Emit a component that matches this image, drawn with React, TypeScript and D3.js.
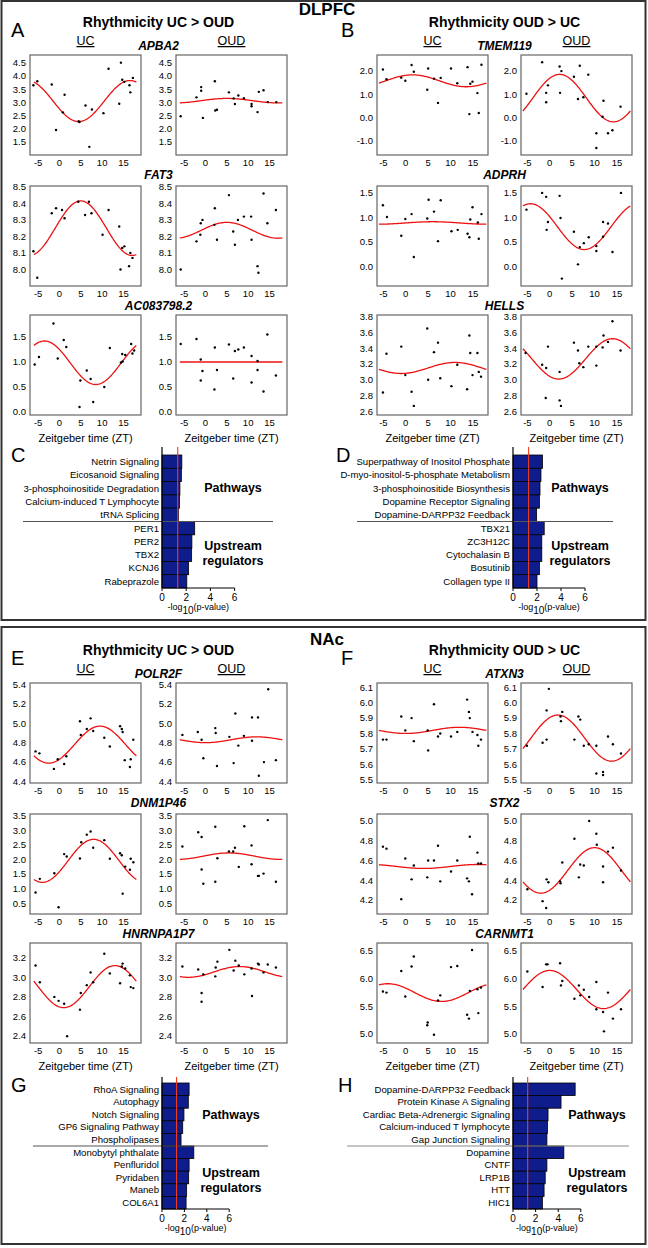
import * as d3 from 'd3'

type Pt = [number, number]
type Fit = [number, number, number] // mesor, amplitude, peak (ZT)

const FONT = 'Liberation Sans, Arial, Helvetica, sans-serif'
const ZT_TICKS = [-5, 0, 5, 10, 15]
const THRESHOLD = 1.3 // -log10(0.05)

// ---------- DLPFC, rhythmicity UC > OUD ----------
const APBA2_UC: Pt[] = [[-6.1,3.65],[-5.2,3.8],[-1.8,3.68],[-0.8,1.95],[0.8,2.62],[1.2,3.29],[4.5,2.28],[4.7,2.25],[6.1,2.88],[7.0,1.31],[7.6,2.73],[10.3,2.59],[11.5,4.28],[14.0,2.95],[14.4,4.51],[14.7,3.86],[15.2,3.78],[16.4,3.65],[16.6,3.38],[17.2,3.93]]
const APBA2_OUD: Pt[] = [[-5.8,2.47],[-2.1,3.19],[-1.0,3.58],[-1.0,3.44],[-0.6,2.41],[2.2,3.8],[2.3,2.69],[2.7,2.72],[5.5,3.38],[6.6,3.15],[6.9,2.94],[7.7,3.26],[9.0,3.16],[10.8,2.94],[10.8,2.85],[12.2,2.63],[12.5,3.4],[13.6,3.46],[14.6,3.01],[16.6,3.01]]
const FAT3_UC: Pt[] = [[-6.1,8.11],[-5.2,7.95],[-1.8,8.34],[-0.8,8.37],[0.6,8.36],[1.2,8.31],[4.4,8.41],[6.0,8.33],[6.9,8.41],[7.5,8.34],[10.1,8.21],[11.5,8.36],[14.0,8.26],[14.3,8.0],[14.7,8.13],[15.2,8.14],[16.3,8.02],[16.6,8.10],[17.1,8.07]]
const FAT3_OUD: Pt[] = [[-5.8,8.0],[-2.1,8.17],[-1.2,8.21],[-1.1,8.28],[-0.7,8.30],[2.1,8.27],[2.2,8.37],[2.7,8.18],[5.5,8.45],[6.5,8.23],[6.9,8.15],[7.6,8.30],[9.0,8.32],[10.7,8.32],[10.8,8.18],[12.2,8.02],[12.4,7.98],[13.6,8.46],[14.5,8.28],[16.5,8.36]]
const AC083798_UC: Pt[] = [[-5.8,0.95],[-4.8,1.1],[-1.4,1.77],[-0.4,1.07],[1.0,1.44],[1.6,1.3],[4.7,0.1],[4.9,0.63],[6.4,0.83],[7.3,0.66],[7.9,0.2],[10.5,0.5],[11.8,1.28],[14.4,0.99],[14.7,1.16],[14.8,1.01],[15.4,1.14],[16.8,1.36],[17.1,1.17],[17.5,1.23]]
const AC083798_OUD: Pt[] = [[-5.8,1.36],[-2.1,1.46],[-1.1,1.05],[-0.7,0.82],[-1.1,0.63],[2.2,1.29],[2.1,0.45],[2.7,0.84],[5.5,1.35],[6.5,0.67],[6.9,1.22],[7.7,1.25],[9.0,1.29],[10.8,1.12],[10.8,0.59],[12.2,1.02],[12.2,0.84],[13.6,0.41],[14.5,1.55],[16.5,0.73]]

// ---------- DLPFC, rhythmicity OUD > UC ----------
const TMEM119_UC: Pt[] = [[-5.1,2.06],[-4.3,1.64],[-1.0,1.71],[-0.1,1.58],[1.3,2.25],[1.8,1.96],[5.0,2.1],[4.8,1.19],[6.3,1.67],[7.2,0.63],[7.8,1.70],[10.1,2.1],[11.5,1.47],[13.8,2.16],[14.2,0.15],[14.4,1.45],[14.9,1.54],[16.0,1.05],[16.3,0.2],[16.9,2.26]]
const TMEM119_OUD: Pt[] = [[-5.2,1.02],[-1.7,2.37],[-0.8,1.06],[-0.8,0.66],[-0.4,1.38],[2.2,2.19],[2.6,1.99],[2.3,1.06],[5.4,1.75],[6.3,0.8],[6.7,2.22],[7.5,0.87],[8.6,1.84],[10.4,-0.67],[10.4,-1.3],[11.8,0.04],[12.0,0.72],[13.0,-0.67],[14.0,-0.54],[15.8,0.47]]
const ADPRH_UC: Pt[] = [[-5.1,1.25],[-4.2,1.01],[-1.0,0.63],[-0.1,0.97],[1.3,1.07],[1.8,0.2],[4.8,0.98],[5.1,1.36],[6.3,1.12],[7.2,0.52],[7.8,1.35],[10.2,0.72],[11.6,0.75],[13.8,0.67],[14.2,0.6],[14.4,0.96],[14.9,1.21],[16.1,0.9],[16.3,0.57],[16.9,1.07]]
const ADPRH_OUD: Pt[] = [[-5.2,1.16],[-1.7,1.5],[-0.8,1.42],[-0.7,0.75],[-0.4,0.91],[2.2,1.44],[2.4,0.99],[2.7,-0.24],[5.4,0.71],[6.3,0.05],[6.7,0.4],[7.6,0.48],[8.7,0.6],[10.4,0.42],[10.4,0.32],[11.9,0.61],[11.9,0.91],[13.0,0.88],[14.0,0.3],[15.9,1.5]]
const HELLS_UC: Pt[] = [[-5.1,2.84],[-4.3,3.33],[-1.0,3.42],[-0.1,3.06],[1.3,2.85],[1.8,2.67],[4.8,3.65],[5.0,3.0],[6.3,3.35],[7.2,3.47],[7.7,3.02],[10.2,2.92],[11.5,3.19],[13.7,2.88],[14.2,3.56],[14.4,3.34],[14.9,3.06],[16.0,3.34],[16.3,3.1],[16.8,3.04]]
const HELLS_OUD: Pt[] = [[-5.4,3.34],[-1.7,3.19],[-0.8,3.15],[-0.4,3.42],[-0.9,2.77],[2.2,3.10],[2.2,2.74],[2.5,2.67],[5.4,3.47],[6.3,3.37],[6.6,3.21],[7.5,3.16],[8.6,3.42],[10.4,3.18],[10.4,3.42],[11.8,3.41],[12.0,3.56],[13.0,3.48],[14.0,3.74],[15.8,3.37]]

// ---------- NAc, rhythmicity UC > OUD ----------
const POLR2F_UC: Pt[] = [[-5.6,4.71],[-4.7,4.69],[-1.3,4.53],[-0.4,4.63],[1.1,4.58],[1.6,4.66],[4.8,5.02],[5.0,4.88],[6.4,4.94],[7.3,5.05],[7.9,4.92],[10.5,4.85],[11.8,4.76],[14.2,4.97],[14.6,4.94],[14.8,4.91],[15.3,4.62],[16.5,4.55],[16.7,4.63],[17.3,4.83]]
const POLR2F_OUD: Pt[] = [[-5.4,4.88],[-1.8,4.91],[-0.9,4.83],[-0.5,4.64],[2.3,4.95],[2.4,4.90],[2.7,4.56],[5.6,4.86],[6.6,4.59],[7.0,5.1],[7.7,4.77],[9.0,4.87],[10.9,5.06],[10.9,4.82],[12.3,5.06],[12.5,4.46],[13.7,4.6],[14.7,5.35],[16.5,4.62]]
const DNM1P46_UC: Pt[] = [[-5.6,0.87],[-4.6,1.34],[-1.2,1.53],[-0.2,0.36],[1.1,2.19],[1.7,2.11],[4.8,2.04],[5.1,2.6],[6.4,2.86],[7.3,2.97],[7.9,2.41],[10.5,2.67],[11.8,2.03],[14.2,2.22],[14.6,2.15],[14.8,0.83],[15.4,1.76],[16.5,1.65],[16.7,2.03],[17.3,1.91]]
const DNM1P46_OUD: Pt[] = [[-5.4,2.45],[-1.7,2.94],[-0.9,2.78],[-0.9,1.66],[-0.5,1.17],[2.3,3.13],[2.3,1.24],[2.8,2.05],[5.5,2.28],[6.5,2.28],[6.9,2.41],[7.8,1.75],[9.1,3.15],[10.8,2.49],[10.8,1.84],[12.3,1.44],[12.5,1.44],[13.6,1.52],[14.6,3.36],[16.5,1.24]]
const HNRNPA1P7_UC: Pt[] = [[-5.6,3.12],[-4.6,2.95],[-1.2,2.8],[-0.2,2.76],[1.1,2.73],[1.8,2.40],[4.8,2.67],[5.0,2.84],[6.4,2.92],[7.3,3.05],[7.9,2.95],[10.5,3.24],[11.8,3.04],[14.2,2.94],[14.6,3.11],[14.8,3.14],[15.4,3.09],[16.5,3.02],[16.7,2.9],[17.3,2.89]]
const HNRNPA1P7_OUD: Pt[] = [[-5.4,3.11],[-1.7,3.08],[-0.9,2.84],[-0.9,2.75],[-0.5,3.03],[2.3,3.01],[2.4,3.1],[2.8,3.16],[5.6,3.28],[6.6,3.07],[7.0,3.17],[7.8,3.12],[9.1,3.03],[10.8,3.09],[10.9,2.81],[12.3,3.14],[12.5,3.13],[13.6,3.05],[14.6,3.13],[16.5,3.1]]

// ---------- NAc, rhythmicity OUD > UC ----------
const ATXN3_UC: Pt[] = [[-5.1,5.76],[-4.3,5.76],[-1.0,5.91],[-0.1,5.82],[1.3,5.90],[1.8,5.75],[4.9,5.82],[5.0,5.69],[6.3,5.99],[7.2,5.78],[7.7,5.80],[10.1,5.78],[11.5,5.81],[13.7,6.02],[14.1,5.94],[14.3,5.9],[14.9,5.81],[16.0,5.79],[16.2,5.72],[16.8,5.76]]
const ATXN3_OUD: Pt[] = [[-5.1,5.72],[-1.6,5.74],[-0.7,5.76],[-0.7,5.95],[-0.2,6.09],[2.4,5.91],[2.5,5.88],[2.8,5.94],[5.5,5.76],[6.4,5.91],[6.8,5.89],[7.6,5.72],[8.7,5.73],[10.4,5.72],[10.4,5.54],[11.9,5.55],[11.9,5.53],[13.0,5.78],[14.1,5.73],[15.9,5.67]]
const STX2_UC: Pt[] = [[-5.1,4.74],[-4.3,4.72],[-1.0,4.21],[-0.1,4.62],[1.3,4.41],[1.8,4.55],[4.8,4.43],[5.0,4.6],[6.3,4.6],[7.2,4.75],[7.7,4.39],[10.1,4.49],[11.5,4.6],[13.7,4.42],[14.1,4.39],[14.3,4.84],[14.8,4.26],[16.0,4.68],[16.2,4.57],[16.8,4.57]]
const STX2_OUD: Pt[] = [[-5.0,4.31],[-1.6,4.19],[-0.8,4.12],[-0.7,4.41],[-0.3,4.38],[2.3,4.39],[2.4,4.37],[2.8,4.58],[5.5,4.82],[6.5,4.43],[6.8,4.56],[7.6,4.55],[8.8,5.0],[10.4,4.87],[10.5,4.76],[11.9,4.54],[11.9,4.38],[13.0,4.69],[14.1,4.73],[15.9,4.5]]
const CARNMT1_UC: Pt[] = [[-5.1,5.77],[-4.3,5.75],[-1.0,6.14],[-0.1,5.68],[1.3,6.22],[1.8,6.40],[4.8,5.16],[4.9,5.21],[6.3,4.99],[7.2,5.61],[7.7,5.70],[10.1,6.21],[11.5,6.23],[13.7,5.35],[14.1,5.28],[14.3,5.78],[14.8,6.52],[16.0,5.81],[16.2,5.38],[16.8,5.84]]
const CARNMT1_OUD: Pt[] = [[-5.0,6.13],[-1.6,5.85],[-0.8,6.26],[-0.5,6.26],[2.3,6.28],[2.5,5.88],[2.8,5.96],[5.5,5.64],[6.5,5.88],[6.8,5.70],[7.6,5.80],[8.8,5.67],[10.4,5.94],[10.4,5.45],[11.9,5.40],[12.1,5.05],[13.0,5.75],[14.1,5.28],[15.9,5.45]]

interface Gene {
  name: string
  yDomain: [number, number]
  yTicks: number[]
  uc: Pt[]
  oud: Pt[]
  ucFit: Fit
  oudFit: Fit
}

const GENES_A: Gene[] = [
  { name: 'APBA2', yDomain: [1.0, 4.8], yTicks: [1.5, 2, 2.5, 3, 3.5, 4, 4.5], uc: APBA2_UC, oud: APBA2_OUD, ucFit: [3.05, 0.78, 16.5], oudFit: [3.065, 0.085, 5] },
  { name: 'FAT3', yDomain: [7.9, 8.505], yTicks: [8.0, 8.1, 8.2, 8.3, 8.4, 8.5], uc: FAT3_UC, oud: FAT3_OUD, ucFit: [8.25, 0.165, 5], oudFit: [8.237, 0.048, 5] },
  { name: 'AC083798.2', yDomain: [-0.06, 1.94], yTicks: [0, 0.5, 1, 1.5], uc: AC083798_UC, oud: AC083798_OUD, ucFit: [0.985, 0.435, -3.5], oudFit: [1.0, 0, 0] },
]
const GENES_B: Gene[] = [
  { name: 'TMEM119', yDomain: [-1.6, 2.68], yTicks: [-1, 0, 1, 2], uc: TMEM119_UC, oud: TMEM119_OUD, ucFit: [1.575, 0.255, 1.5], oudFit: [0.835, 1.015, 2.2] },
  { name: 'ADPRH', yDomain: [-0.39, 1.64], yTicks: [0, 0.5, 1, 1.5], uc: ADPRH_UC, oud: ADPRH_OUD, ucFit: [0.89, 0.025, 6], oudFit: [0.815, 0.465, -4.3] },
  { name: 'HELLS', yDomain: [2.555, 3.82], yTicks: [2.6, 2.8, 3.0, 3.2, 3.4, 3.6, 3.8], uc: HELLS_UC, oud: HELLS_OUD, ucFit: [3.15, 0.07, 11], oudFit: [3.265, 0.255, 14] },
]
const GENES_E: Gene[] = [
  { name: 'POLR2F', yDomain: [4.385, 5.414], yTicks: [4.4, 4.6, 4.8, 5.0, 5.2, 5.4], uc: POLR2F_UC, oud: POLR2F_OUD, ucFit: [4.78, 0.19, 9.5], oudFit: [4.83, 0.03, 12] },
  { name: 'DNM1P46', yDomain: [0.13, 3.57], yTicks: [0.5, 1, 1.5, 2, 2.5, 3, 3.5], uc: DNM1P46_UC, oud: DNM1P46_OUD, ucFit: [1.96, 0.74, 8], oudFit: [2.12, 0.11, 5.5] },
  { name: 'HNRNPA1P7', yDomain: [2.33, 3.35], yTicks: [2.4, 2.6, 2.8, 3.0, 3.2], uc: HNRNPA1P7_UC, oud: HNRNPA1P7_OUD, ucFit: [2.905, 0.215, 13], oudFit: [3.055, 0.055, 8] },
]
const GENES_F: Gene[] = [
  { name: 'ATXN3', yDomain: [5.478, 6.128], yTicks: [5.5, 5.6, 5.7, 5.8, 5.9, 6.0, 6.1], uc: ATXN3_UC, oud: ATXN3_OUD, ucFit: [5.82, 0.02, 12], oudFit: [5.77, 0.15, 1.8] },
  { name: 'STX2', yDomain: [4.06, 5.07], yTicks: [4.2, 4.4, 4.6, 4.8, 5.0], uc: STX2_UC, oud: STX2_OUD, ucFit: [4.54, 0.02, 16], oudFit: [4.5, 0.23, 10] },
  { name: 'CARNMT1', yDomain: [4.84, 6.645], yTicks: [5.0, 5.5, 6.0, 6.5], uc: CARNMT1_UC, oud: CARNMT1_OUD, ucFit: [5.75, 0.16, -4], oudFit: [5.805, 0.345, 0] },
]

// ---------- IPA enrichment ----------
const C_LABELS = ['Netrin Signaling', 'Eicosanoid Signaling', '3-phosphoinositide Degradation', 'Calcium-induced T Lymphocyte', 'tRNA Splicing', 'PER1', 'PER2', 'TBX2', 'KCNJ6', 'Rabeprazole']
const C_VALUES = [1.64, 1.6, 1.48, 1.45, 1.35, 2.7, 2.47, 2.45, 2.2, 2.05]
const D_LABELS = ['Superpathway of Inositol Phosphate', 'D-myo-inositol-5-phosphate Metabolism', '3-phosphoinositide Biosynthesis', 'Dopamine Receptor Signaling', 'Dopamine-DARPP32 Feedback', 'TBX21', 'ZC3H12C', 'Cytochalasin B', 'Bosutinib', 'Collagen type II']
const D_VALUES = [2.46, 2.33, 2.25, 2.2, 1.97, 2.6, 2.4, 2.4, 2.2, 2.0]
const G_LABELS = ['RhoA Signaling', 'Autophagy', 'Notch Signaling', 'GP6 Signaling Pathway', 'Phospholipases', 'Monobytyl phthalate', 'Penfluridol', 'Pyridaben', 'Maneb', 'COL6A1']
const G_VALUES = [2.42, 2.35, 1.96, 1.85, 1.7, 2.84, 2.42, 2.38, 2.2, 2.15]
const H_LABELS = ['Dopamine-DARPP32 Feedback', 'Protein Kinase A Signaling', 'Cardiac Beta-Adrenergic Signaling', 'Calcium-induced T lymphocyte', 'Gap Junction Signaling', 'Dopamine', 'CNTF', 'LRP1B', 'HTT', 'HIC1']
const H_VALUES = [5.5, 4.25, 3.1, 3.05, 3.0, 4.5, 3.0, 2.85, 2.75, 2.6]
const BAR_TICKS = [0, 2, 4, 6]

const PLOT_W = 111
const PLOT_H = 100
const ROW_TOPS = [55, 186, 315]
const GENE_LABEL_GAP = [5, 7, 5]

function Scatter({ left, top, xDomain, gene, pts, fit, showLabel }: {
  left: number; top: number; xDomain: [number, number]; gene: Gene; pts: Pt[]; fit: Fit; showLabel: boolean
}) {
  const x = d3.scaleLinear().domain(xDomain).range([left, left + PLOT_W])
  const y = d3.scaleLinear().domain(gene.yDomain).range([top + PLOT_H, top])
  const ts = d3.range(-6, 18.001, 0.2)
  const line = d3.line<number>()
    .x(t => x(t))
    .y(t => y(fit[0] + fit[1] * Math.cos((2 * Math.PI * (t - fit[2])) / 24)))
  return (
    <g>
      <rect x={left} y={top} width={PLOT_W} height={PLOT_H} fill="none" stroke="#666" strokeWidth={1.2} />
      {gene.yTicks.map(v => (
        <text key={v} x={left - 4} y={y(v)} dy="0.35em" textAnchor="end" fontSize={9.5}>{v.toFixed(1)}</text>
      ))}
      {ZT_TICKS.map(v => (
        <text key={v} x={x(v)} y={top + PLOT_H + 11} textAnchor="middle" fontSize={9.5}>{String(v)}</text>
      ))}
      {showLabel && (
        <text x={left + PLOT_W / 2} y={top + PLOT_H + 27} textAnchor="middle" fontSize={11}>Zeitgeber time (ZT)</text>
      )}
      <path d={line(ts) ?? ''} fill="none" stroke="#ee1111" strokeWidth={1.3} />
      {pts.map((p, i) => (
        <circle key={i} cx={x(p[0])} cy={y(p[1])} r={1.2} fill="#000" />
      ))}
    </g>
  )
}

function GeneColumn({ genes, ucLeft, oudLeft, xDomain, dy, title, letter, letterX }: {
  genes: Gene[]; ucLeft: number; oudLeft: number; xDomain: [number, number]; dy: number; title: string; letter: string; letterX: number
}) {
  const cx = (ucLeft + oudLeft + PLOT_W) / 2
  return (
    <g>
      <text x={letterX} y={dy + 37} fontSize={20}>{letter}</text>
      <text x={cx} y={dy + 27} textAnchor="middle" fontSize={14} fontWeight="bold">{title}</text>
      <text x={ucLeft + PLOT_W / 2} y={dy + 45} textAnchor="middle" fontSize={12.5} textDecoration="underline">UC</text>
      <text x={oudLeft + PLOT_W / 2} y={dy + 45} textAnchor="middle" fontSize={12.5} textDecoration="underline">OUD</text>
      {genes.map((g, i) => (
        <g key={g.name}>
          <text x={cx} y={dy + ROW_TOPS[i] - GENE_LABEL_GAP[i]} textAnchor="middle" fontSize={12} fontWeight="bold" fontStyle="italic">{g.name}</text>
          <Scatter left={ucLeft} top={dy + ROW_TOPS[i]} xDomain={xDomain} gene={g} pts={g.uc} fit={g.ucFit} showLabel={i === 2} />
          <Scatter left={oudLeft} top={dy + ROW_TOPS[i]} xDomain={xDomain} gene={g} pts={g.oud} fit={g.oudFit} showLabel={i === 2} />
        </g>
      ))}
    </g>
  )
}

function Enrichment({ labels, values, zeroX, unit, axisTop, barsTop, pitch, sep, sepColor, textX, pathY, letter, letterX }: {
  labels: string[]; values: number[]; zeroX: number; unit: number; axisTop: number; barsTop: number; pitch: number
  sep: [number, number]; sepColor: string; textX: number; pathY: number; letter: string; letterX: number
}) {
  const x = d3.scaleLinear().domain([0, 6]).range([zeroX, zeroX + 6 * unit])
  const y = d3.scaleBand<string>().domain(labels).range([barsTop, barsTop + labels.length * pitch])
  const bottom = barsTop + labels.length * pitch
  const sepY = barsTop + 5 * pitch
  return (
    <g>
      <text x={letterX} y={axisTop + 15} fontSize={20}>{letter}</text>
      {labels.map((l, i) => (
        <g key={l}>
          <rect x={x(0)} y={y(l)} width={x(values[i]) - x(0)} height={y.bandwidth()} fill="#0f1d8c" stroke="#000" strokeWidth={0.8} />
          <text x={zeroX - 3} y={(y(l) ?? 0) + y.bandwidth() / 2} dy="0.35em" textAnchor="end" fontSize={9.6}>{l}</text>
        </g>
      ))}
      <line x1={sep[0]} x2={sep[1]} y1={sepY} y2={sepY} stroke={sepColor} strokeWidth={1} />
      <line x1={x(0)} x2={x(0)} y1={axisTop} y2={bottom} stroke="#000" strokeWidth={1.2} />
      <line x1={x(0)} x2={x(6)} y1={bottom} y2={bottom} stroke="#000" strokeWidth={1.2} />
      {BAR_TICKS.map(v => (
        <g key={v}>
          <line x1={x(v)} x2={x(v)} y1={bottom} y2={bottom + 3} stroke="#000" />
          <text x={x(v)} y={bottom + 13} textAnchor="middle" fontSize={10}>{v}</text>
        </g>
      ))}
      <line x1={x(THRESHOLD)} x2={x(THRESHOLD)} y1={axisTop} y2={bottom} stroke="#f03c1e" strokeWidth={1.1} />
      <text x={x(3)} y={bottom + 22} textAnchor="middle" fontSize={9}>
        -log<tspan dy={4} fontSize={10}>10</tspan><tspan dy={-4}>(p-value)</tspan>
      </text>
      <text x={textX} y={pathY} textAnchor="middle" fontSize={12.5} fontWeight="bold">Pathways</text>
      <text x={textX} y={pathY + 58} textAnchor="middle" fontSize={12.5} fontWeight="bold">Upstream</text>
      <text x={textX} y={pathY + 73} textAnchor="middle" fontSize={12.5} fontWeight="bold">regulators</text>
    </g>
  )
}

export default function App() {
  const LEFT_X: [number, number] = [-6.9, 19.1]
  const RIGHT_X: [number, number] = [-6.42, 18.36]
  const NAC = 628
  return (
    <div style={{ position: 'absolute', left: 0, top: 0, background: '#fff' }}>
      <svg width={648} height={1248} fontFamily={FONT} style={{ display: 'block' }}>
        <rect x={0} y={0} width={648} height={1248} fill="#fff" />
        <rect x={1.5} y={1} width={644} height={619} fill="none" stroke="#333" strokeWidth={2} />
        <rect x={1.5} y={627} width={644} height={617} fill="none" stroke="#333" strokeWidth={2} />
        <text x={327} y={15} textAnchor="middle" fontSize={17} fontWeight="bold">DLPFC</text>
        <text x={327} y={NAC + 17} textAnchor="middle" fontSize={17} fontWeight="bold">NAc</text>

        <GeneColumn genes={GENES_A} ucLeft={30} oudLeft={176} xDomain={LEFT_X} dy={0} title="Rhythmicity UC > OUD" letter="A" letterX={11} />
        <GeneColumn genes={GENES_B} ucLeft={377} oudLeft={521} xDomain={RIGHT_X} dy={0} title="Rhythmicity OUD > UC" letter="B" letterX={341} />
        <GeneColumn genes={GENES_E} ucLeft={30} oudLeft={176} xDomain={LEFT_X} dy={NAC} title="Rhythmicity UC > OUD" letter="E" letterX={11} />
        <GeneColumn genes={GENES_F} ucLeft={377} oudLeft={521} xDomain={RIGHT_X} dy={NAC} title="Rhythmicity OUD > UC" letter="F" letterX={341} />

        <Enrichment labels={C_LABELS} values={C_VALUES} zeroX={162} unit={12.1} axisTop={447} barsTop={455} pitch={13.3}
          sep={[23, 273]} sepColor="#555" textX={233} pathY={492} letter="C" letterX={11} />
        <Enrichment labels={D_LABELS} values={D_VALUES} zeroX={513} unit={12.0} axisTop={447} barsTop={455} pitch={13.3}
          sep={[357, 613]} sepColor="#555" textX={580} pathY={492} letter="D" letterX={336} />
        <Enrichment labels={G_LABELS} values={G_VALUES} zeroX={162} unit={11.2} axisTop={1077} barsTop={1083} pitch={12.6}
          sep={[33, 268]} sepColor="#555" textX={231} pathY={1119} letter="G" letterX={11} />
        <Enrichment labels={H_LABELS} values={H_VALUES} zeroX={513} unit={11.3} axisTop={1077} barsTop={1083} pitch={12.6}
          sep={[347, 629]} sepColor="#8a8a8a" textX={597} pathY={1119} letter="H" letterX={338} />
      </svg>
    </div>
  )
}
